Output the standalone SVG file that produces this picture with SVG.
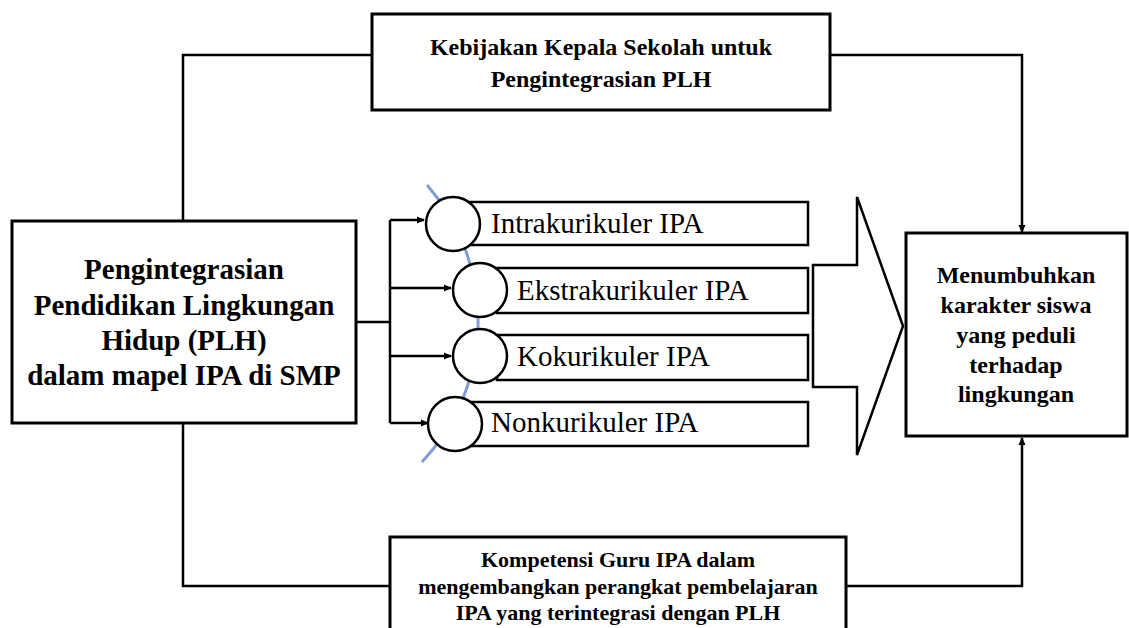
<svg xmlns="http://www.w3.org/2000/svg" width="1129" height="628" viewBox="0 0 1129 628" font-family="'Liberation Serif', 'Times New Roman', Tinos, 'DejaVu Serif', serif">
<style>
.box{fill:#fff;stroke:#000;stroke-width:3}
.item{fill:#fff;stroke:#000;stroke-width:2.5}
.ln{fill:none;stroke:#000;stroke-width:2.5}
.tb{font-weight:bold;fill:#000;text-anchor:middle}
.tn{fill:#000;font-size:29px}
</style>
<defs>
<marker id="ah" markerWidth="8" markerHeight="8" refX="7" refY="4" orient="auto" markerUnits="userSpaceOnUse">
<path d="M0,0.5 L8,4 L0,7.5 Z" fill="#000"/>
</marker>
</defs>
<g id="connectors">
<path class="ln" d="M183,221 V55 H372"/>
<path class="ln" d="M830,55 H1022 V232" marker-end="url(#ah)"/>
<path class="ln" d="M183,423 V586 H390"/>
<path class="ln" d="M846,586 H1022 V438" marker-end="url(#ah)"/>
<path class="ln" d="M356,322 H390"/>
<path class="ln" d="M390,220 V423"/>
<path class="ln" d="M390,220 H424" marker-end="url(#ah)"/>
<path class="ln" d="M390,288 H451" marker-end="url(#ah)"/>
<path class="ln" d="M390,356 H451" marker-end="url(#ah)"/>
<path class="ln" d="M390,423 H428" marker-end="url(#ah)"/>
</g>
<g id="top-box">
<rect class="box" x="372" y="14" width="458" height="96"/>
<text class="tb" font-size="24" x="601" y="55">Kebijakan Kepala Sekolah untuk</text>
<text class="tb" font-size="24" x="601" y="87">Pengintegrasian PLH</text>
</g>
<g id="bottom-box">
<rect class="box" x="390" y="537" width="456" height="100"/>
<text class="tb" font-size="22" x="618" y="567">Kompetensi Guru IPA dalam</text>
<text class="tb" font-size="22" x="618" y="594">mengembangkan perangkat pembelajaran</text>
<text class="tb" font-size="22" x="618" y="620">IPA yang terintegrasi dengan PLH</text>
</g>
<g id="left-box">
<rect class="box" x="12" y="221" width="344" height="202"/>
<text class="tb" font-size="29" x="184" y="279">Pengintegrasian</text>
<text class="tb" font-size="29" x="184" y="315">Pendidikan Lingkungan</text>
<text class="tb" font-size="29" x="184" y="350">Hidup (PLH)</text>
<text class="tb" font-size="29" x="184" y="385">dalam mapel IPA di SMP</text>
</g>
<g id="right-box">
<rect class="box" x="906" y="233" width="221" height="203"/>
<text class="tb" font-size="24" x="1016" y="283">Menumbuhkan</text>
<text class="tb" font-size="24" x="1016" y="313">karakter siswa</text>
<text class="tb" font-size="24" x="1016" y="343">yang peduli</text>
<text class="tb" font-size="24" x="1016" y="373">terhadap</text>
<text class="tb" font-size="24" x="1016" y="402">lingkungan</text>
</g>
<g id="big-arrow">
<polygon class="item" points="813,265 857,265 857,197 903,326 857,455 857,387 813,387"/>
</g>
<g id="list">
<rect class="item" x="470" y="202" width="338" height="43"/>
<rect class="item" x="497" y="268" width="311" height="45"/>
<rect class="item" x="497" y="335" width="311" height="45"/>
<rect class="item" x="470" y="402" width="338" height="44"/>
<path d="M427,185 A206,206 0 0 1 422,462" fill="none" stroke="#7f9ed4" stroke-width="3"/>
</g>
<g id="item-intrakurikuler">
<circle class="item" cx="453" cy="224" r="27"/>
<text class="tn" x="491" y="233">Intrakurikuler IPA</text>
</g>
<g id="item-ekstrakurikuler">
<circle class="item" cx="480" cy="290" r="27"/>
<text class="tn" x="517" y="300">Ekstrakurikuler IPA</text>
</g>
<g id="item-kokurikuler">
<circle class="item" cx="480" cy="356" r="27"/>
<text class="tn" x="517" y="366">Kokurikuler IPA</text>
</g>
<g id="item-nonkurikuler">
<circle class="item" cx="455" cy="424" r="27"/>
<text class="tn" x="491" y="432">Nonkurikuler IPA</text>
</g>
</svg>
